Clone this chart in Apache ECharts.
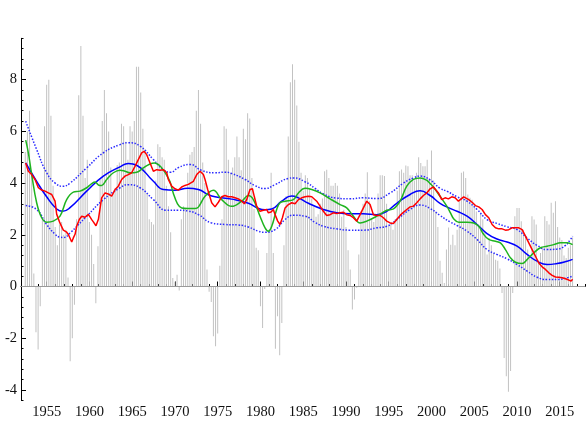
<!DOCTYPE html>
<html><head><meta charset="utf-8">
<script src="https://cdn.jsdelivr.net/npm/echarts@6/dist/echarts.min.js"></script>
<style>html,body{margin:0;padding:0;background:#fff}#c{width:587px;height:423px}</style>
</head><body><div id="c"></div>
<script>
// Quarterly year-over-year growth, first bar at 1952.5, one bar per quarter
const firstQuarter = 1952.5;
const quarterStep = 0.25;
const gdpGrowth = [
  5.2,
  6.0, 6.8, 4.4, 0.5,
  -1.77, -2.44, -0.76, 2.6,
  6.2, 7.8, 8.0, 6.6,
  3.9, 2.3, 1.6, 2.4,
  2.5, 2.0, 2.2, 0.35,
  -2.89, -2.0, -0.7, 2.6,
  7.4, 9.3, 6.6, 4.2,
  4.9, 2.5, 2.0, 0.87,
  -0.65, 1.56, 4.2, 6.4,
  7.6, 6.7, 6.0, 4.6,
  3.6, 3.8, 4.7, 4.8,
  6.3, 6.2, 5.6, 4.9,
  6.2, 6.0, 6.4, 8.5,
  8.5, 7.5, 6.1, 5.3,
  3.6, 2.6, 2.5, 2.4,
  4.1, 5.5, 5.4, 5.0,
  4.9, 3.9, 3.1, 2.1,
  0.33, 0.18, 0.46, -0.15,
  2.6, 3.1, 3.0, 4.4,
  5.1, 5.2, 5.4, 6.8,
  7.6, 6.3, 4.8, 4.0,
  0.66, -0.2, -0.6, -1.92,
  -2.31, -1.82, 0.8, 2.6,
  6.2, 6.1, 4.9, 4.4,
  4.6, 5.0, 5.8, 5.0,
  4.5, 6.1, 5.7, 6.7,
  6.5, 4.2, 3.0, 1.5,
  1.4, -0.76, -1.6, -0.1,
  1.3, 2.2, 4.4, 1.3,
  -2.41, -1.15, -2.66, -1.41,
  1.6, 3.5, 5.8, 7.9,
  8.6, 8.0, 7.0, 5.6,
  4.4, 3.7, 4.3, 4.2,
  3.8, 3.4, 3.1, 2.7,
  2.8, 3.2, 3.4, 4.46,
  4.52, 4.2, 3.9, 3.9,
  4.0, 3.9, 3.6, 2.7,
  2.97, 2.3, 1.4, 0.66,
  -0.89, -0.5, -0.05, 1.24,
  2.9, 3.2, 3.6, 4.42,
  3.3, 2.6, 2.5, 2.8,
  3.6, 4.3, 4.3, 4.27,
  3.2, 2.4, 2.5, 2.2,
  2.6, 3.7, 4.46, 4.53,
  4.4, 4.68, 4.65, 4.3,
  4.3, 4.1, 4.4, 5.0,
  4.78, 4.65, 4.65, 4.9,
  4.2, 5.26, 4.1, 2.9,
  2.3, 1.0, 0.53, 0.14,
  1.43, 2.28, 1.62, 2.0,
  1.6, 2.2, 3.3, 4.4,
  4.45, 4.2, 3.56, 3.43,
  3.36, 3.17, 2.9, 2.4,
  2.85, 2.6, 2.1, 1.24,
  1.88, 1.6, 1.3, 1.04,
  1.0, 0.7, -0.25, -2.76,
  -3.47, -4.07, -3.27, -0.25,
  2.72, 3.04, 3.04, 2.52,
  2.2, 2.0, 1.43, 1.2,
  2.72, 2.59, 2.4, 1.01,
  1.3, 1.5, 2.72, 2.53,
  2.4, 3.24, 2.85, 3.3,
  2.3, 1.9, 1.8, 1.2,
  1.1, 1.5, 1.6, 1.9
];

const redLine = [[1952.55,4.78],[1952.86,4.46],[1953.25,4.33],[1953.64,4.14],[1954.03,3.82],[1954.42,3.73],[1954.81,3.69],[1955.2,3.62],[1955.59,3.56],[1955.78,3.52],[1955.98,3.3],[1956.17,2.8],[1956.56,2.45],[1956.95,2.18],[1957.34,2.1],[1957.54,2.01],[1957.73,2.05],[1957.93,1.72],[1958.12,1.88],[1958.32,2.02],[1958.51,2.33],[1958.82,2.59],[1959.1,2.72],[1959.49,2.68],[1959.88,2.79],[1960.07,2.72],[1960.27,2.59],[1960.46,2.5],[1960.77,2.35],[1961.05,2.6],[1961.43,3.43],[1961.83,3.62],[1962.2,3.58],[1962.6,3.5],[1963.0,3.75],[1963.38,3.88],[1963.77,4.14],[1964.16,4.27],[1964.55,4.33],[1964.94,4.4],[1965.33,4.65],[1965.72,4.91],[1966.11,5.17],[1966.39,5.23],[1966.7,5.1],[1967.09,4.78],[1967.48,4.46],[1967.87,4.52],[1968.26,4.5],[1968.65,4.52],[1969.04,4.4],[1969.23,4.14],[1969.62,3.88],[1970.01,3.78],[1970.4,3.73],[1970.79,3.85],[1971.18,3.91],[1971.57,3.95],[1971.77,3.88],[1972.16,4.07],[1972.55,4.33],[1972.94,4.46],[1973.33,4.33],[1973.52,4.14],[1973.83,3.75],[1974.3,3.24],[1974.69,3.08],[1975.08,3.26],[1975.47,3.47],[1975.86,3.52],[1976.25,3.47],[1976.64,3.47],[1977.03,3.43],[1977.42,3.39],[1977.81,3.3],[1978.12,3.2],[1978.39,3.36],[1978.78,3.75],[1979.06,3.78],[1979.29,3.47],[1979.56,3.11],[1979.95,2.91],[1980.34,2.95],[1980.73,2.98],[1980.93,2.85],[1981.24,2.88],[1981.51,2.98],[1981.71,2.78],[1982.02,2.53],[1982.29,2.4],[1982.57,2.66],[1982.88,3.04],[1983.27,3.17],[1983.66,3.24],[1984.05,3.2],[1984.44,3.36],[1984.83,3.43],[1985.22,3.47],[1985.61,3.49],[1986.0,3.47],[1986.19,3.43],[1986.58,3.3],[1986.97,3.11],[1987.36,2.91],[1987.75,2.75],[1988.14,2.78],[1988.53,2.85],[1988.92,2.82],[1989.31,2.85],[1989.7,2.87],[1990.09,2.78],[1990.48,2.75],[1990.87,2.66],[1991.26,2.53],[1991.65,2.78],[1992.04,3.04],[1992.43,3.3],[1992.82,3.17],[1993.21,2.78],[1993.6,2.75],[1993.99,2.75],[1994.38,2.66],[1994.77,2.53],[1995.16,2.46],[1995.55,2.44],[1995.94,2.59],[1996.33,2.75],[1996.72,2.87],[1997.11,2.98],[1997.5,3.08],[1997.89,3.11],[1998.28,3.24],[1998.67,3.39],[1999.06,3.52],[1999.45,3.62],[1999.84,3.78],[2000.23,3.85],[2000.81,3.62],[2001.2,3.36],[2001.59,3.43],[2001.98,3.39],[2002.37,3.47],[2002.76,3.43],[2003.15,3.3],[2003.38,3.36],[2003.77,3.47],[2003.97,3.49],[2004.36,3.36],[2004.75,3.26],[2005.14,3.13],[2005.53,3.08],[2005.92,2.98],[2006.31,2.78],[2006.7,2.66],[2007.09,2.4],[2007.48,2.27],[2007.87,2.23],[2008.26,2.23],[2008.65,2.18],[2009.04,2.2],[2009.43,2.27],[2009.82,2.27],[2010.21,2.27],[2010.6,2.2],[2010.99,1.95],[2011.38,1.69],[2011.77,1.43],[2012.16,1.17],[2012.55,0.91],[2012.94,0.76],[2013.33,0.66],[2013.72,0.53],[2014.11,0.43],[2014.5,0.37],[2014.89,0.36],[2015.28,0.34],[2015.67,0.3],[2016.06,0.25],[2016.33,0.21],[2016.5,0.28]];

const greenLine = [[1952.55,5.66],[1952.86,5.17],[1953.25,4.33],[1953.83,3.24],[1954.42,2.66],[1955.0,2.49],[1955.78,2.53],[1956.56,2.72],[1957.34,3.36],[1958.12,3.65],[1958.9,3.69],[1959.68,3.82],[1960.27,3.98],[1960.66,4.04],[1961.1,3.92],[1961.43,3.91],[1962.02,4.14],[1962.8,4.4],[1963.58,4.5],[1964.16,4.46],[1964.75,4.4],[1965.53,4.42],[1966.31,4.59],[1967.09,4.74],[1967.6,4.78],[1968.2,4.68],[1968.65,4.5],[1969.04,4.3],[1969.43,4.05],[1969.8,3.62],[1970.3,3.2],[1970.8,3.04],[1971.5,3.02],[1972.35,3.02],[1972.74,3.07],[1973.52,3.49],[1974.5,3.72],[1975.47,3.36],[1976.64,3.1],[1977.81,3.3],[1978.59,3.52],[1979.17,3.36],[1979.95,2.72],[1980.54,2.27],[1980.93,2.14],[1981.32,2.33],[1981.9,2.98],[1982.29,3.24],[1982.88,3.3],[1983.85,3.36],[1984.44,3.62],[1985.22,3.8],[1986.0,3.75],[1986.97,3.62],[1988.14,3.39],[1989.31,3.17],[1990.09,3.04],[1990.87,2.72],[1991.65,2.46],[1992.43,2.53],[1993.6,2.72],[1994.77,2.95],[1995.55,3.0],[1996.33,3.3],[1997.11,3.88],[1997.89,4.14],[1998.67,4.2],[1999.45,4.11],[1999.84,3.98],[2000.23,3.85],[2001.0,3.49],[2001.79,3.11],[2002.22,2.85],[2002.6,2.62],[2003.19,2.49],[2004.16,2.49],[2004.94,2.46],[2005.53,2.33],[2006.11,2.01],[2006.7,1.82],[2007.48,1.75],[2008.06,1.69],[2008.65,1.43],[2009.23,1.11],[2009.82,0.94],[2010.6,0.89],[2011.18,1.04],[2011.96,1.3],[2012.74,1.5],[2013.52,1.56],[2014.3,1.62],[2015.08,1.69],[2015.86,1.69],[2016.5,1.62]];

const trendLine = [[1952.55,4.78],[1953.83,4.07],[1955.0,3.47],[1956.17,3.0],[1956.87,2.91],[1957.73,3.05],[1959.68,3.69],[1961.63,4.27],[1963.58,4.63],[1964.55,4.76],[1965.53,4.69],[1967.48,4.07],[1968.65,3.75],[1970.0,3.72],[1971.5,3.8],[1972.74,3.75],[1973.91,3.55],[1974.69,3.47],[1976.64,3.38],[1978.59,3.22],[1979.76,3.02],[1980.54,2.97],[1981.32,3.0],[1982.49,3.3],[1983.66,3.5],[1984.44,3.43],[1985.61,3.22],[1987.36,2.98],[1988.92,2.85],[1990.48,2.81],[1992.04,2.81],[1993.6,2.78],[1994.77,2.91],[1995.94,3.22],[1997.5,3.56],[1998.67,3.7],[1999.84,3.52],[2001.0,3.22],[2002.17,3.02],[2002.99,2.91],[2004.16,2.72],[2005.33,2.4],[2006.5,2.05],[2007.67,1.84],[2008.84,1.72],[2010.01,1.56],[2011.18,1.24],[2012.35,0.98],[2013.52,0.85],[2014.69,0.89],[2015.86,0.98],[2016.5,1.05]];

const upperBand = [[1952.55,6.39],[1953.83,5.3],[1955.0,4.4],[1956.0,4.0],[1956.9,3.88],[1957.73,4.0],[1959.68,4.59],[1961.63,5.17],[1963.58,5.49],[1964.55,5.56],[1965.92,5.43],[1967.48,4.91],[1968.65,4.52],[1969.5,4.42],[1970.4,4.6],[1971.77,4.72],[1973.13,4.49],[1974.69,4.4],[1975.86,4.42],[1976.64,4.37],[1978.2,4.14],[1979.37,3.9],[1980.54,3.79],[1981.71,3.94],[1983.27,4.18],[1983.85,4.2],[1985.22,4.05],[1986.39,3.8],[1987.36,3.58],[1988.92,3.42],[1990.48,3.39],[1992.04,3.43],[1993.6,3.4],[1995.16,3.62],[1996.72,4.0],[1997.89,4.2],[1998.67,4.27],[1999.84,4.12],[2001.0,3.8],[2001.83,3.68],[2002.99,3.47],[2004.16,3.3],[2005.33,2.98],[2006.5,2.59],[2007.67,2.44],[2008.84,2.31],[2010.01,2.2],[2011.18,1.88],[2012.35,1.59],[2013.52,1.43],[2014.69,1.45],[2015.67,1.59],[2016.25,1.82],[2016.5,1.95]];

const lowerBand = [[1952.55,3.13],[1953.83,2.98],[1955.0,2.4],[1956.0,2.02],[1956.56,1.91],[1957.0,1.9],[1957.73,2.07],[1959.68,2.72],[1961.63,3.36],[1963.58,3.82],[1964.55,3.94],[1965.92,3.82],[1967.48,3.36],[1969.0,2.95],[1970.4,2.95],[1971.57,2.92],[1972.74,2.78],[1974.3,2.46],[1975.86,2.4],[1977.42,2.38],[1978.59,2.3],[1979.76,2.14],[1980.54,2.1],[1981.71,2.2],[1982.88,2.59],[1983.85,2.76],[1985.22,2.72],[1986.39,2.48],[1987.36,2.33],[1988.92,2.23],[1990.48,2.18],[1992.04,2.18],[1993.6,2.27],[1994.77,2.33],[1995.94,2.59],[1997.5,2.98],[1998.67,3.15],[1999.84,3.02],[2001.0,2.75],[2002.17,2.5],[2002.99,2.36],[2004.16,2.14],[2005.33,1.82],[2006.5,1.43],[2007.67,1.24],[2008.84,1.07],[2010.01,0.85],[2011.18,0.6],[2012.35,0.36],[2013.52,0.27],[2014.69,0.27],[2015.86,0.34],[2016.5,0.4]];

// Axis settings
const xMin = 1952, xMax = 2018, xMajorFrom = 1955, xMajorTo = 2015, xMajorStep = 5;
const yMin = -4.4, yMax = 9.6, yMinorStep = 0.4, yMajorFrom = -4, yMajorTo = 8, yMajorStep = 2;

// Layout (pixels)
const W = 587, H = 423;
const PL = 21, PR = 585.4, PT = 38.3, PB = 400.3;
const xPx = v => PL + (v - xMin) / (xMax - xMin) * (PR - PL);
const yPx = v => PB - (v - yMin) / (yMax - yMin) * (PB - PT);

const FONT = 'Liberation Serif';
const barData = gdpGrowth.map((v, i) => [firstQuarter + i * quarterStep, v]);

const chart = echarts.init(document.getElementById('c'), null, {renderer: 'canvas'});
chart.setOption({
  animation: false,
  backgroundColor: '#fff',
  grid: [
    {left: PL, right: W - PR, top: PT, bottom: H - PB},
    {left: PL, right: W - PR, top: yPx(yMajorTo), bottom: H - yPx(yMajorFrom)},
    {left: xPx(xMajorFrom), right: W - xPx(xMajorTo), top: PT, bottom: H - PB}
  ],
  xAxis: [
    {gridIndex: 0, type: 'value', min: xMin, max: xMax, interval: 1,
     axisLine: {show: true, lineStyle: {color: '#000', width: 1}},
     axisTick: {show: true, inside: true, length: 2.5, lineStyle: {color: '#000'}},
     axisLabel: {show: false}, splitLine: {show: false}},
    {gridIndex: 1, type: 'value', min: xMin, max: xMax, show: false},
    {gridIndex: 2, type: 'value', min: xMajorFrom, max: xMajorTo, interval: xMajorStep,
     axisLine: {show: false},
     axisTick: {show: true, inside: true, length: 5, lineStyle: {color: '#000'}},
     axisLabel: {show: true, color: '#111', fontFamily: FONT, fontSize: 14.5, margin: 4,
                 formatter: v => String(Math.round(v))},
     splitLine: {show: false}}
  ],
  yAxis: [
    {gridIndex: 0, type: 'value', min: yMin, max: yMax, interval: yMinorStep,
     axisLine: {show: true, lineStyle: {color: '#000', width: 1}},
     axisTick: {show: true, inside: true, length: 2.5, lineStyle: {color: '#000'}},
     axisLabel: {show: false}, splitLine: {show: false}},
    {gridIndex: 1, type: 'value', min: yMajorFrom, max: yMajorTo, interval: yMajorStep,
     axisLine: {show: false},
     axisTick: {show: true, inside: true, length: 5, lineStyle: {color: '#000'}},
     axisLabel: {show: true, color: '#111', fontFamily: FONT, fontSize: 14.5, margin: 4,
                 formatter: v => String(Math.round(v))},
     splitLine: {show: false}},
    {gridIndex: 2, type: 'value', min: yMin, max: yMax, show: false}
  ],
  series: [
    {type: 'bar', xAxisIndex: 0, yAxisIndex: 0, data: barData, barWidth: 1,
     itemStyle: {color: '#c2c2c2'}, silent: true,
     markLine: {silent: true, symbol: 'none', label: {show: false},
       lineStyle: {color: '#9a9a9a', type: 'solid', width: 1},
       emphasis: {disabled: true}, data: [{yAxis: 0}]}},
    {type: 'line', xAxisIndex: 0, yAxisIndex: 0, data: upperBand, smooth: 0.5, showSymbol: false,
     lineStyle: {color: '#2b2bff', width: 1.5, type: [1.5, 1.6]}, silent: true},
    {type: 'line', xAxisIndex: 0, yAxisIndex: 0, data: lowerBand, smooth: 0.5, showSymbol: false,
     lineStyle: {color: '#2b2bff', width: 1.5, type: [1.5, 1.6]}, silent: true},
    {type: 'line', xAxisIndex: 0, yAxisIndex: 0, data: trendLine, smooth: 0.5, showSymbol: false,
     lineStyle: {color: '#0000ff', width: 1.5}, silent: true},
    {type: 'line', xAxisIndex: 0, yAxisIndex: 0, data: greenLine, smooth: 0.4, showSymbol: false,
     lineStyle: {color: '#1fb41f', width: 1.5}, silent: true},
    {type: 'line', xAxisIndex: 0, yAxisIndex: 0, data: redLine, smooth: false, showSymbol: false,
     lineStyle: {color: '#ff0000', width: 1.5}, silent: true}
  ]
});
</script>
</body></html>
